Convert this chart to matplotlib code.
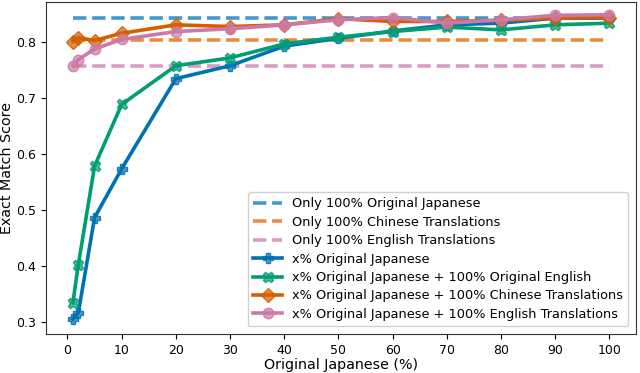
import numpy as np
import matplotlib
matplotlib.use("Agg")
import matplotlib.pyplot as plt
from matplotlib.colors import to_rgba

# x values (% of original Japanese training data)
pct = [1, 2, 5, 10, 20, 30, 40, 50, 60, 70, 80, 90, 100]

# baselines
only_ja = 0.842
only_zh = 0.803
only_en = 0.757

# x% curves
ja = [0.305, 0.316, 0.486, 0.573, 0.734, 0.757, 0.792, 0.806, 0.819, 0.830, 0.833, 0.842, 0.842]
ja_en = [0.334, 0.402, 0.578, 0.688, 0.757, 0.771, 0.796, 0.808, 0.818, 0.826, 0.821, 0.830, 0.833]
ja_zh = [0.800, 0.807, 0.802, 0.815, 0.830, 0.827, 0.830, 0.841, 0.836, 0.836, 0.838, 0.842, 0.843]
ja_en_tr = [0.757, 0.768, 0.787, 0.804, 0.818, 0.823, 0.830, 0.839, 0.843, 0.833, 0.839, 0.847, 0.848]

fig = plt.figure(figsize=(6.4, 3.73), dpi=100)
ax = fig.add_axes([0.072, 0.105, 0.922, 0.89])

xs = np.array(pct)
ax.plot(xs, [only_ja] * len(xs), "--", color="#2f8ccc", lw=2.6, alpha=0.9,
        label="Only 100% Original Japanese")
ax.plot(xs, [only_zh] * len(xs), "--", color="#e3822e", lw=2.6, alpha=0.9,
        label="Only 100% Chinese Translations")
ax.plot(xs, [only_en] * len(xs), "--", color="#d890c0", lw=2.6, alpha=0.9,
        label="Only 100% English Translations")

series = [
    (ja, "#0072b2", "P", "x% Original Japanese"),
    (ja_en, "#009e73", "X", "x% Original Japanese + 100% Original English"),
    (ja_zh, "#d55e00", "D", "x% Original Japanese + 100% Chinese Translations"),
    (ja_en_tr, "#cc79a7", "o", "x% Original Japanese + 100% English Translations"),
]
for ys, c, m, lab in series:
    ax.plot(xs, ys, "-", color=c, lw=2.6, marker=m, markersize=7.5,
            markerfacecolor=to_rgba(c, 0.7), markeredgecolor=to_rgba(c, 0.85),
            markeredgewidth=1.0, label=lab)

ax.set_xticks(np.arange(0, 101, 10))
ax.set_yticks([0.3, 0.4, 0.5, 0.6, 0.7, 0.8])
ax.set_ylim(0.2786, 0.871)
ax.tick_params(labelsize=9, length=3.5)
ax.set_xlabel("Original Japanese (%)", fontsize=10.3, labelpad=1)
ax.set_ylabel("Exact Match Score", fontsize=10.3, labelpad=1.5)
for s in ax.spines.values():
    s.set_color("#333333")

ax.legend(loc="lower right", fontsize=9.3, framealpha=0.9, handlelength=2.2,
          labelspacing=0.42, borderaxespad=0.6)
plt.savefig("out.png")
